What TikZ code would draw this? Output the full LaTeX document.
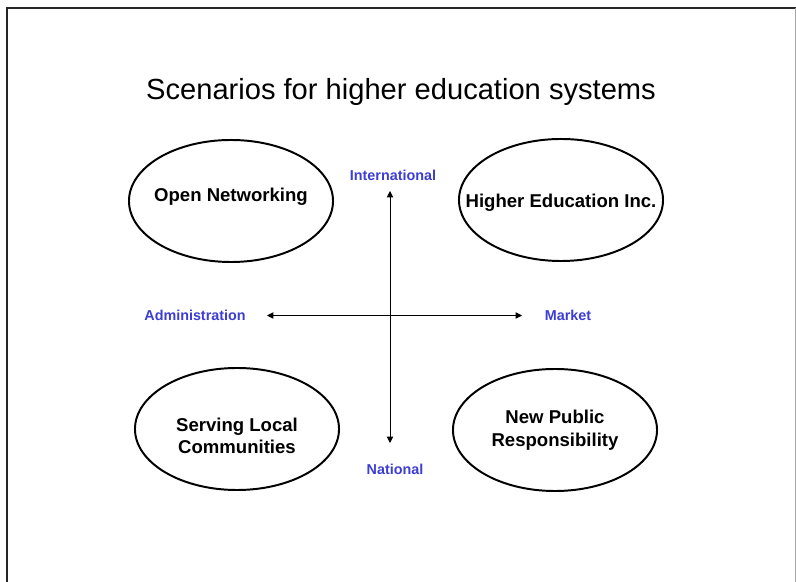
\documentclass[tikz,border=0pt]{standalone}
\usepackage{fontspec}
\setmainfont{Liberation Sans}
\usepackage{tikz}
\usepackage{xcolor}
\usetikzlibrary{shapes, arrows.meta, positioning}

\definecolor{axisblue}{RGB}{60,60,215}
\tikzset{
    scenario/.style={ellipse, draw, line width=1.4pt, inner sep=0pt, minimum width=5.1cm, minimum height=3.05cm},
    scenariotext/.style={align=center, font=\fontsize{13.2}{16}\selectfont\bfseries},
    axislabel/.style={text=axisblue, font=\fontsize{10.2}{12}\selectfont\bfseries},
    axis/.style={{Triangle[length=1.6mm, width=1.6mm]}-{Triangle[length=1.6mm, width=1.6mm]}, line width=0.6pt}
}

\begin{document}
\begin{tikzpicture}[x=0.025cm, y=-0.025cm]
        \useasboundingbox (0, 0) rectangle (796, 582);
        \draw[line width=1.5pt, black!85] (7, 582) -- (7, 8) -- (795.5, 8);
        \draw[line width=0.6pt, black!35] (795.5, 8) -- (795.5, 582);

        \node[font=\fontsize{20.7}{24}\selectfont] (title) at (401, 92) {Scenarios for higher education systems};

        \node[scenario, label={[scenariotext, yshift=0.1cm]center:Open Networking}] (open) at (231, 201) {};
        \node[scenario, label={[scenariotext, yshift=-0.07cm]center:Higher Education Inc.}] (inc) at (561, 200) {};
        \node[scenario, label={[scenariotext, yshift=-0.17cm]center:Serving Local\\Communities}] (local) at (237, 429) {};
        \node[scenario, label={[scenariotext]center:New Public\\Responsibility}] (public) at (555, 430) {};

        \node[axislabel] (intl) at (393, 175) {International};
        \node[axislabel] (natl) at (395, 469) {National};
        \node[axislabel] (admin) at (195, 315) {Administration};
        \node[axislabel] (market) at (568, 315) {Market};

        \coordinate (west) at (267, 315.5);
        \coordinate (east) at (522, 315.5);
        \coordinate (north) at (390, 191);
        \coordinate (south) at (390, 443);

        \draw[axis] (west) -- (east);
        \draw[axis] (north) -- (south);
    \end{tikzpicture}
\end{document}
